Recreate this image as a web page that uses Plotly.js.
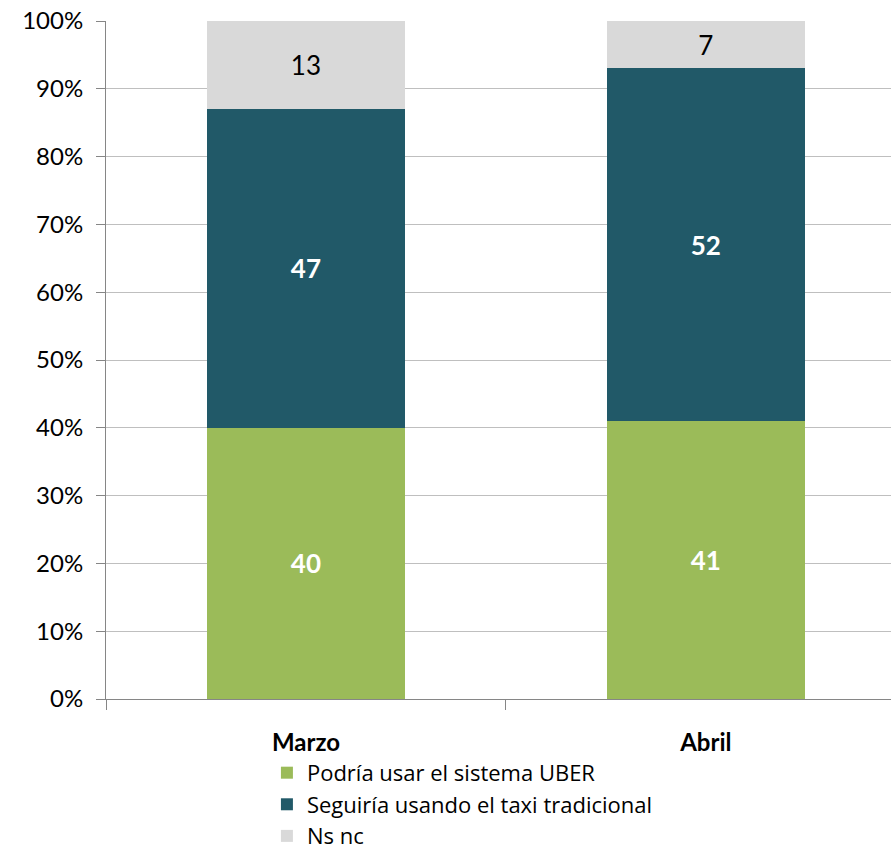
<!DOCTYPE html>
<html>
<head>
<meta charset="utf-8">
<script src="https://cdn.plot.ly/plotly-3.0.1.min.js"></script>
<style>html,body{margin:0;padding:0;background:#fff;}#chart{width:891px;height:852px;}</style>
</head>
<body>
<div id="chart"></div>
<script>
const categories = ["Marzo", "Abril"];
const seriesNames = ["Podría usar el sistema UBER", "Seguiría usando el taxi tradicional", "Ns nc"];
const uber = [40, 41];
const taxi = [47, 52];
const nsnc = [13, 7];
const yTickVals = [0, 10, 20, 30, 40, 50, 60, 70, 80, 90, 100];

const FONT = "Lato, 'Noto Sans', sans-serif";
const LEGEND_FONT = "'Open Sans', 'Noto Sans', sans-serif";
const colors = ["#9BBB59", "#215968", "#D9D9D9"];
const textColors = ["#FFFFFF", "#FFFFFF", "#000000"];
const bold = [true, true, false];
const values = [uber, taxi, nsnc];

const traces = values.map((v, i) => ({
  type: "bar",
  name: seriesNames[i],
  x: categories,
  y: v,
  marker: {color: colors[i], line: {width: 0}},
  width: 0.494,
  text: v.map(d => String(d)),
  texttemplate: bold[i] ? "<b>%{text}</b>" : "%{text}",
  textposition: "inside",
  insidetextanchor: "middle",
  textangle: 0,
  textfont: {family: FONT, size: 26, color: textColors[i]},
  hoverinfo: "skip"
}));

const layout = {
  width: 891,
  height: 852,
  margin: {l: 106, r: 0, t: 21, b: 153, autoexpand: false},
  paper_bgcolor: "#fff",
  plot_bgcolor: "#fff",
  barmode: "stack",
  showlegend: true,
  font: {family: FONT, color: "#000"},
  xaxis: {
    type: "category",
    range: [-0.5, 1.463],
    tickson: "boundaries",
    ticks: "outside",
    ticklen: 10,
    tickcolor: "#868686",
    tickwidth: 1,
    showline: true,
    linecolor: "#868686",
    linewidth: 1,
    showgrid: false,
    tickfont: {family: FONT, size: 24, color: "#000", weight: "bold"},
    ticklabelstandoff: 22
  },
  yaxis: {
    range: [0, 100],
    tickvals: yTickVals,
    ticktext: yTickVals.map(v => v + "%"),
    ticks: "outside",
    ticklen: 9,
    tickcolor: "#868686",
    showline: true,
    linecolor: "#868686",
    linewidth: 1,
    showgrid: true,
    gridcolor: "#BFBFBF",
    gridwidth: 1,
    zeroline: false,
    tickfont: {family: FONT, size: 24, color: "#000"},
    ticklabelstandoff: 8
  },
  legend: {
    orientation: "v",
    x: 0.205,
    xanchor: "left",
    y: -0.078,
    yanchor: "top",
    traceorder: "normal",
    font: {family: LEGEND_FONT, size: 22, color: "#000"},
    itemwidth: 30,
    tracegroupgap: 0,
    bgcolor: "rgba(0,0,0,0)"
  }
};

Plotly.newPlot("chart", traces, layout, {displayModeBar: false, staticPlot: true});
</script>
</body>
</html>
